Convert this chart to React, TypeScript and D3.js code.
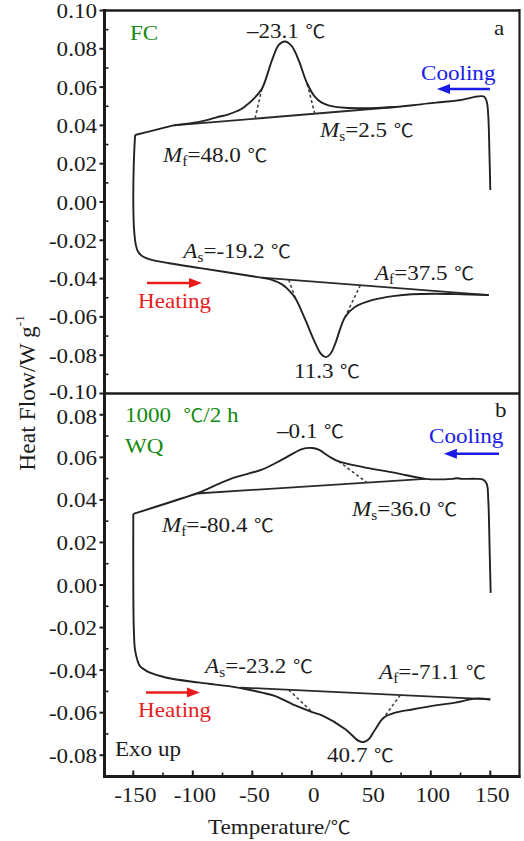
import React from 'react';
import * as d3 from 'd3';

// DSC curves: [temperature ℃, heat flow W/g]
// panel a (FC)
const fcCooling: [number, number][] = [
  [150, 0.0063], [149.3, 0.025], [148.3, 0.045], [147, 0.0525], [145, 0.055], [142, 0.0553],
  [137, 0.0549], [126, 0.0533], [110, 0.0522], [98, 0.0515], [85, 0.0505], [70, 0.0496],
  [55, 0.0491], [42, 0.049], [28, 0.0492], [14, 0.0505], [8, 0.052], [2.5, 0.055], [-4, 0.062],
  [-11, 0.074], [-17, 0.0815], [-22.6, 0.0838], [-27.7, 0.082], [-33.5, 0.074], [-42, 0.059],
  [-49.5, 0.0535], [-55, 0.0505], [-60, 0.0483], [-70, 0.0458], [-80, 0.0442], [-90, 0.0425],
  [-100, 0.0413], [-116, 0.04], [-132, 0.0375], [-148.5, 0.035],
];
const fcHeating: [number, number][] = [
  [-148.5, 0.035], [-149.6, 0.02], [-150, 0.0], [-149.4, -0.014], [-148, -0.022], [-146, -0.026],
  [-142, -0.0285], [-136, -0.03], [-120, -0.032], [-94, -0.0345], [-70, -0.0368], [-50, -0.0388],
  [-42, -0.0395], [-33, -0.0408], [-25, -0.043], [-19.4, -0.046], [-13.8, -0.0503], [-5.4, -0.0616],
  [3, -0.0738], [8, -0.0795], [12, -0.081], [16, -0.079], [19.8, -0.0738], [28, -0.06],
  [36.5, -0.0547], [50.6, -0.0512], [70, -0.049], [84, -0.0482], [104, -0.0479], [121, -0.0481],
  [148.7, -0.0486],
];
const fcBaselines: [number, number][][] = [
  [[-116, 0.04], [70, 0.0496]],
  [[-42, -0.0395], [148.7, -0.0486]],
];
const fcTangents: [number, number][][] = [
  [[-47.7, 0.0437], [-42, 0.059]],
  [[2.5, 0.0461], [-4, 0.062]],
  [[-19.4, -0.0406], [-13.8, -0.0503]],
  [[40.8, -0.0434], [28, -0.06]],
];

// panel b (1000 ℃/2 h WQ)
const wqCooling: [number, number][] = [
  [150.3, -0.0037], [149.5, 0.015], [148.3, 0.04], [147, 0.0475], [144, 0.0495], [138, 0.0499],
  [126, 0.0499], [122, 0.0502], [118, 0.0499], [95.4, 0.0499], [70.2, 0.0527], [42.2, 0.0555],
  [22.6, 0.0581], [14.2, 0.0605], [5.8, 0.0636], [0.2, 0.0644], [-8.2, 0.0639], [-25, 0.0589],
  [-42, 0.0542], [-66, 0.0503], [-94, 0.0436], [-96.7, 0.043], [-150, 0.0334],
];
const wqHeating: [number, number][] = [
  [-150, 0.0334], [-150, 0.0], [-149.6, -0.02], [-148.6, -0.0303], [-146.5, -0.0355],
  [-144.4, -0.0381], [-140, -0.04], [-136, -0.0412], [-122, -0.0436], [-94, -0.0459],
  [-66, -0.0479], [-55, -0.049], [-41.8, -0.0506], [-30.7, -0.0522], [-13.9, -0.0566],
  [0.2, -0.0597], [8.6, -0.0613], [28.2, -0.0678], [39.4, -0.0733], [43.6, -0.0738],
  [47.8, -0.0725], [53.4, -0.0678], [60.4, -0.0624], [70.2, -0.06], [84.2, -0.0585],
  [103.8, -0.0566], [120.6, -0.0553], [137.4, -0.0534], [150, -0.0538],
];
const wqBaselines: [number, number][][] = [
  [[-96.7, 0.043], [95.4, 0.0499]],
  [[-60, -0.0482], [137.4, -0.0534], [150, -0.0538]],
];
const wqTangents: [number, number][][] = [
  [[22.6, 0.0581], [46.4, 0.0481]],
  [[-19.4, -0.0493], [0.2, -0.0597]],
  [[74.4, -0.0517], [60.4, -0.0624]],
];

const xTicks = [-150, -100, -50, 0, 50, 100, 150];
const xMinor = [-125, -75, -25, 25, 75, 125];
const topTicks = [0.1, 0.08, 0.06, 0.04, 0.02, 0, -0.02, -0.04, -0.06, -0.08, -0.1];
const topMinor = [0.09, 0.07, 0.05, 0.03, 0.01, -0.01, -0.03, -0.05, -0.07, -0.09];
const botTicks = [0.08, 0.06, 0.04, 0.02, 0, -0.02, -0.04, -0.06, -0.08];
const botMinor = [0.07, 0.05, 0.03, 0.01, -0.01, -0.03, -0.05, -0.07];

// labels: [temperature, heat flow] of the text start
type Note = { t: number; v: number; sym?: string; sub?: string; text: string; unit?: boolean; color?: string };
const fcNotes: Note[] = [
  { t: -152.8, v: 0.0846, text: 'FC', color: 'green' },
  { t: -54.5, v: 0.0856, text: '\u201323.1', unit: true },
  { t: 153.1, v: 0.0872, text: 'a' },
  { t: 91.8, v: 0.0637, text: 'Cooling', color: 'blue' },
  { t: -125, v: 0.0209, sym: 'M', sub: 'f', text: '=48.0', unit: true },
  { t: 6.9, v: 0.0339, sym: 'M', sub: 's', text: '=2.5', unit: true },
  { t: -108, v: -0.0294, sym: 'A', sub: 's', text: '=-19.2', unit: true },
  { t: -146, v: -0.0554, text: 'Heating', color: 'red' },
  { t: 53.1, v: -0.0407, sym: 'A', sub: 'f', text: '=37.5', unit: true },
  { t: -15, v: -0.0919, text: '11.3', unit: true },
];
const wqNotes: Note[] = [
  { t: -157, v: 0.0768, text: '1000 ', unit: true, color: 'green' },
  { t: -157, v: 0.0622, text: 'WQ', color: 'green' },
  { t: 154, v: 0.0791, text: 'b' },
  { t: -29.2, v: 0.0692, text: '\u20130.1', unit: true },
  { t: 98.5, v: 0.0669, text: 'Cooling', color: 'blue' },
  { t: -125.9, v: 0.0251, sym: 'M', sub: 'f', text: '=-80.4', unit: true },
  { t: 33.8, v: 0.0322, sym: 'M', sub: 's', text: '=36.0', unit: true },
  { t: -89.7, v: -0.0415, sym: 'A', sub: 's', text: '=-23.2', unit: true },
  { t: -146, v: -0.0622, text: 'Heating', color: 'red' },
  { t: -165.4, v: -0.0805, text: 'Exo up' },
  { t: 56.5, v: -0.0444, sym: 'A', sub: 'f', text: '=-71.1', unit: true },
  { t: 12.8, v: -0.0833, text: '40.7', unit: true },
];
// arrows: from, to, colour
const fcArrows = [
  { t0: 149.7, t1: 105.2, v: 0.059, color: '#1a1ae6' },
  { t0: -138.5, t1: -92.3, v: -0.0423, color: '#e81c1c' },
];
const wqArrows = [
  { t0: 157.3, t1: 111, v: 0.0617, color: '#1a1ae6' },
  { t0: -139.3, t1: -94, v: -0.0505, color: '#e81c1c' },
];

const W = 524, H = 841;
const left = 104.5, right = 519.5;
const x = d3.scaleLinear().domain([-150, 150]).range([133.3, 490.3]);
const yTop = d3.scaleLinear().domain([-0.1, 0.1]).range([393.5, 10.5]);
const yBot = d3.scaleLinear().domain([-0.09, 0.09]).range([776.5, 393.5]);

const serif = "'Liberation Serif', 'Times New Roman', serif";
const cjk = "'Noto Sans CJK SC', sans-serif";
const ink = '#1c1c1c';

function Txt({ x, y, anchor = 'start', size = 21, fill = ink, children }: any) {
  return (
    <text transform={`translate(${x},${y}) scale(1.1,1)`} textAnchor={anchor} fontSize={size}
      fill={fill} fontFamily={serif}>{children}</text>
  );
}

function Panel({ y, cool, heat, bases, tangents, notes, arrows, ticks, minor, nudge }: any) {
  const line = d3.line<[number, number]>().x(d => x(d[0])).y(d => y(d[1])).curve(d3.curveCatmullRom.alpha(0.5));
  const straight = d3.line<[number, number]>().x(d => x(d[0])).y(d => y(d[1]));
  const colors: any = { green: '#128a12', blue: '#1a1ae6', red: '#e81c1c' };
  return (
    <g>
      {ticks.map((v: number, i: number) => (
        <g key={'t' + v}>
          <line x1={left - 5} x2={left} y1={y(v)} y2={y(v)} stroke={ink} strokeWidth={2} />
          <Txt x={97} y={y(v) + 7.5 + (nudge[i] || 0)} anchor="end">{v.toFixed(2)}</Txt>
        </g>
      ))}
      {minor.map((v: number) => (
        <line key={'m' + v} x1={left} x2={left + 4} y1={y(v)} y2={y(v)} stroke={ink} strokeWidth={1.6} />
      ))}
      {bases.map((b: [number, number][], i: number) => (
        <path key={'b' + i} d={straight(b) || ''} fill="none" stroke="#2a2a2a" strokeWidth={1.8} />
      ))}
      {tangents.map((b: [number, number][], i: number) => (
        <path key={'d' + i} d={straight(b) || ''} fill="none" stroke="#444" strokeWidth={1.6} strokeDasharray="3,2.5" />
      ))}
      <path d={line(cool) || ''} fill="none" stroke="#222" strokeWidth={1.9} strokeLinejoin="round" />
      <path d={line(heat) || ''} fill="none" stroke="#222" strokeWidth={1.9} strokeLinejoin="round" />
      {arrows.map((a: any, i: number) => {
        const x0 = x(a.t0), x1 = x(a.t1), yy = y(a.v);
        const dir = x1 > x0 ? 1 : -1;
        const head = 13;
        return (
          <g key={'a' + i}>
            <line x1={x0} x2={x1 - dir * head + dir * 1} y1={yy} y2={yy} stroke={a.color} strokeWidth={2.6} />
            <polygon points={`${x1},${yy} ${x1 - dir * head},${yy - 5} ${x1 - dir * head},${yy + 5}`} fill={a.color} />
          </g>
        );
      })}
      {notes.map((n: Note, i: number) => (
        <Txt key={'n' + i} x={x(n.t)} y={y(n.v)} fill={n.color ? colors[n.color] : ink}>
          {n.sym ? <tspan fontStyle="italic">{n.sym}</tspan> : null}
          {n.sub ? <tspan fontSize={14} dy={4}>{n.sub}</tspan> : null}
          <tspan dy={n.sub ? -4 : 0}>{n.text}</tspan>
          {n.unit ? <tspan dx={6} fontFamily={cjk} fontSize={18}>℃</tspan> : null}
          {n.color === 'green' && n.unit ? <tspan>/2 h</tspan> : null}
        </Txt>
      ))}
    </g>
  );
}

export default function App() {
  const yb = 776.5;
  const topNudge = [0, 0, 0, 0, 0, 0, 0, 0, 0, 0, -2];
  const botNudge = [1.5];
  return (
    <svg width={W} height={H} style={{ position: 'absolute', left: 0, top: 0, background: '#fff' }}>
      <rect x={0} y={0} width={W} height={H} fill="#fff" />
      <Panel y={yTop} cool={fcCooling} heat={fcHeating} bases={fcBaselines} tangents={fcTangents}
        notes={fcNotes} arrows={fcArrows} ticks={topTicks} minor={topMinor} nudge={topNudge} />
      <Panel y={yBot} cool={wqCooling} heat={wqHeating} bases={wqBaselines} tangents={wqTangents}
        notes={wqNotes} arrows={wqArrows} ticks={botTicks} minor={botMinor} nudge={botNudge} />
      {/* frame */}
      <line x1={left} x2={right} y1={10.5} y2={10.5} stroke={ink} strokeWidth={2.6} />
      <line x1={left} x2={right} y1={393.5} y2={393.5} stroke={ink} strokeWidth={2.6} />
      <line x1={right} x2={right} y1={9} y2={yb + 1.5} stroke={ink} strokeWidth={2.2} />
      <line x1={left} x2={left} y1={9} y2={yb + 1.5} stroke={ink} strokeWidth={3} />
      <line x1={left} x2={right + 1} y1={yb} y2={yb} stroke={ink} strokeWidth={3} />
      {xTicks.map(t => (
        <g key={'x' + t}>
          <line x1={x(t)} x2={x(t)} y1={yb} y2={yb - 6} stroke={ink} strokeWidth={2} />
          <Txt x={x(t) + 2} y={802} anchor="middle">{String(t)}</Txt>
        </g>
      ))}
      {xMinor.map(t => (
        <line key={'xm' + t} x1={x(t)} x2={x(t)} y1={yb} y2={yb - 4} stroke={ink} strokeWidth={1.6} />
      ))}
      <Txt x={208} y={834}>Temperature/<tspan fontFamily={cjk} fontSize={18}>℃</tspan></Txt>
      <text transform="translate(35,393) rotate(-90)" textAnchor="middle" fontSize={23.5} fontFamily={serif} fill={ink}>
        Heat Flow/W g<tspan fontSize={13} dy={-11}>-1</tspan>
      </text>
    </svg>
  );
}
